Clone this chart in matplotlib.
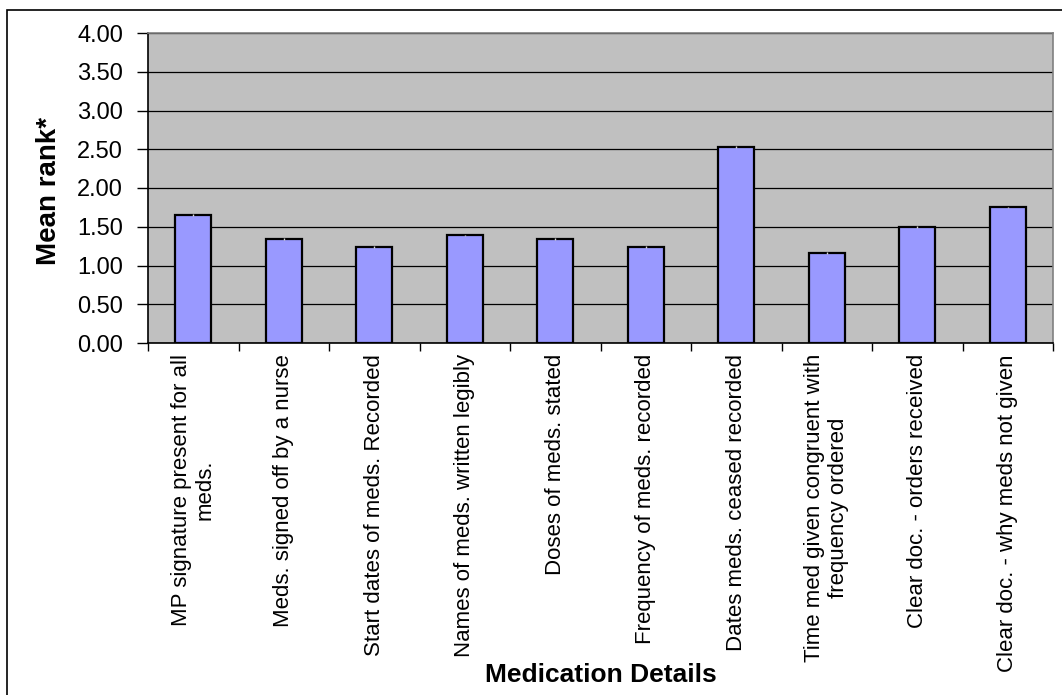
import numpy as np
import matplotlib
matplotlib.use('Agg')
import matplotlib.pyplot as plt
from matplotlib.patches import Rectangle
from matplotlib.ticker import FormatStrFormatter, MultipleLocator

categories = [
    'MP signature present for all\nmeds.',
    'Meds. signed off by a nurse',
    'Start dates of meds. Recorded',
    'Names of meds. written legibly',
    'Doses of meds. stated',
    'Frequency of meds. recorded',
    'Dates meds. ceased recorded',
    'Time med given congruent with\nfrequency ordered',
    'Clear doc. - orders received',
    'Clear doc. - why meds not given',
]
mean_rank = [1.65, 1.34, 1.24, 1.39, 1.34, 1.24, 2.53, 1.16, 1.50, 1.75]
errors = [0.01] * 10

plt.rcParams['font.family'] = ['Liberation Sans', 'DejaVu Sans']

fig = plt.figure(figsize=(10.62, 6.95), dpi=100)
ax = fig.add_axes([148 / 1062, 1 - 343 / 695, 905 / 1062, 310 / 695])
ax.set_facecolor('#C0C0C0')

x = np.arange(len(categories))
ax.bar(x, mean_rank, width=0.4, color='#9999FF', edgecolor='black', linewidth=1.6, zorder=3)
ax.errorbar(x, mean_rank, yerr=errors, fmt='none', ecolor='#D8D8D8', elinewidth=1, capsize=0, zorder=4)

ax.set_xlim(-0.5, len(categories) - 0.5)
ax.set_ylim(0, 4)
ax.yaxis.set_major_locator(MultipleLocator(0.5))
ax.yaxis.set_major_formatter(FormatStrFormatter('%.2f'))
ax.grid(axis='y', color='black', linewidth=0.9, zorder=1)
ax.set_axisbelow(True)

ax.set_xticks(x)
ax.set_xticklabels(categories, rotation=90, ha='center', va='top', multialignment='center')
ax.set_xticks(np.arange(-0.5, len(categories) + 0.5, 1), minor=True)
ax.tick_params(axis='x', which='major', length=0, pad=8, labelsize=16)
ax.tick_params(axis='x', which='minor', length=6, width=1, direction='out')
ax.tick_params(axis='y', length=8, width=1, direction='out', pad=10, labelsize=17)

for side in ['left', 'bottom']:
    ax.spines[side].set_color('black')
    ax.spines[side].set_linewidth(1.2)
for side in ['top', 'right']:
    ax.spines[side].set_color('#808080')
    ax.spines[side].set_linewidth(1.2)

fig.text(49 / 1062, 1 - 191 / 695, 'Mean rank*', rotation=90, ha='center', va='center',
         fontsize=20, fontweight='bold')
fig.text(601 / 1062, 1 - 675 / 695, 'Medication Details', ha='center', va='center',
         fontsize=19, fontweight='bold')

# outer chart border
fig.patches.append(Rectangle((7 / 1062, -0.05), 1.2, 1.05 - 10 / 695, transform=fig.transFigure,
                             fill=False, edgecolor='black', linewidth=1.2))

fig.savefig('out.png', dpi=100)
